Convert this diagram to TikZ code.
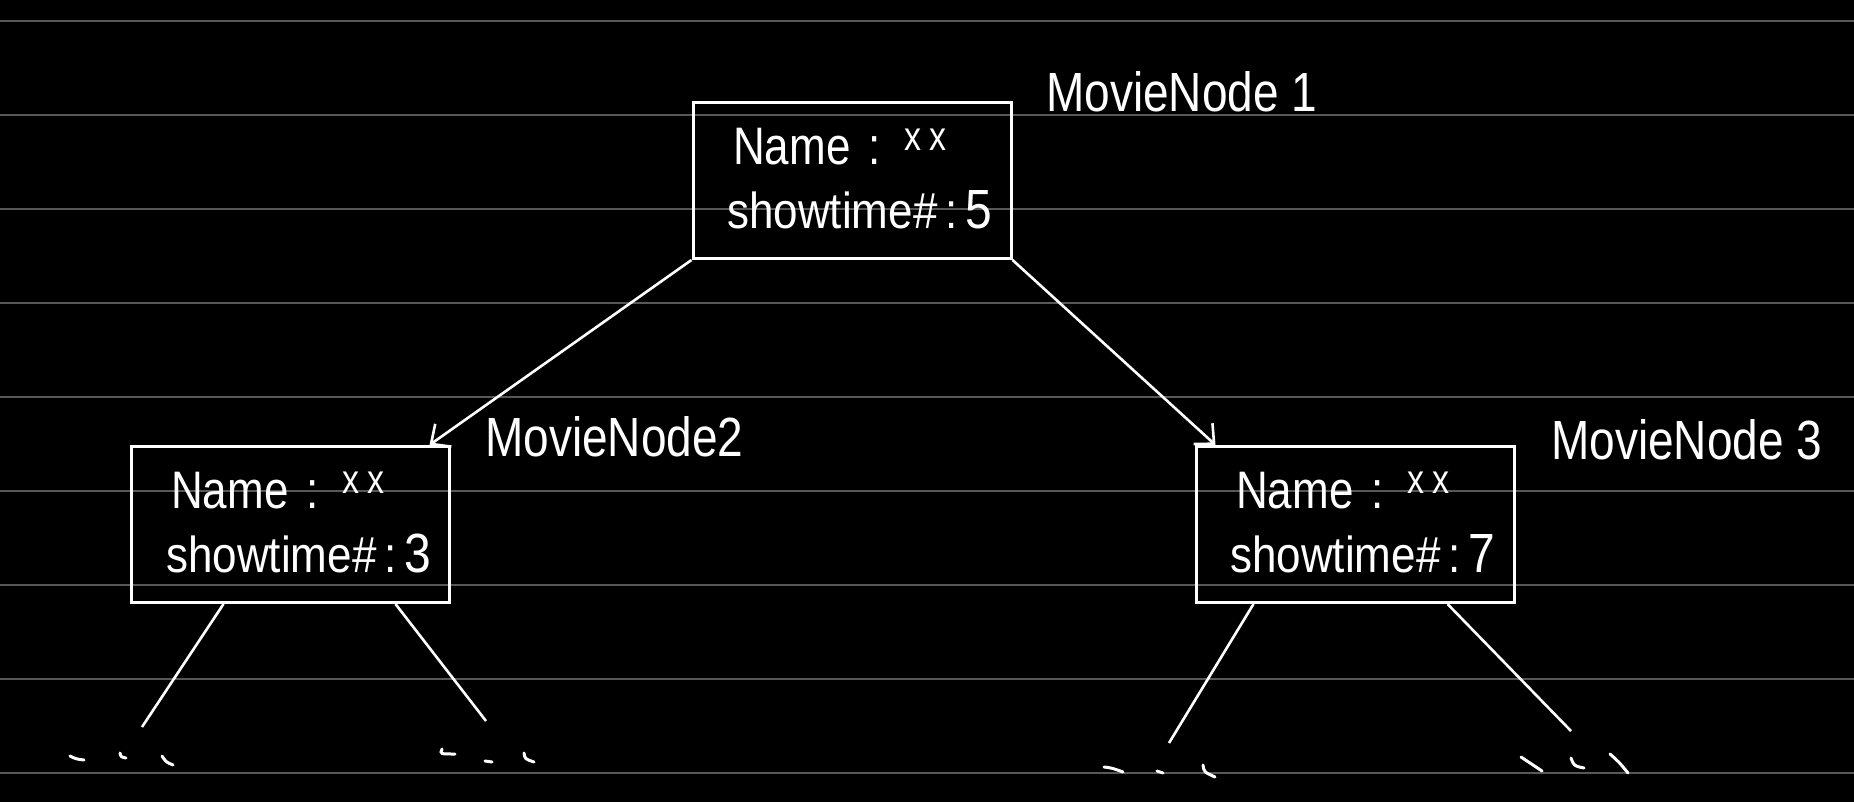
\documentclass[tikz,border=0pt]{standalone}
\usepackage{fontspec}
\setmainfont{Liberation Sans}
\usetikzlibrary{arrows.meta}
\definecolor{rule}{RGB}{88,88,88}
\tikzset{
  box/.style={draw=white, line width=3pt, minimum width=318pt, minimum height=156pt, inner sep=0pt},
  txt/.style={text=white, anchor=base west, inner sep=0pt, font=\fontsize{44}{48}\selectfont},
  lbl/.style={text=white, anchor=base west, inner sep=0pt, font=\fontsize{46}{50}\selectfont},
  link/.style={draw=white, line width=2.6pt},
  arr/.style={link, -{Straight Barb[length=15pt, width=28pt, line width=2.6pt]}},
  dotstroke/.style={draw=white, line width=3pt, line cap=round},
  ruleline/.style={draw=rule, line width=2pt}
}
\newcommand{\xxmark}{\hspace{18pt}:\hspace{24pt}{\fontsize{34}{34}\selectfont\raisebox{12pt}{x\hspace{8pt}x}}}
\newcommand{\showline}[1]{\scalebox{1}[1.15]{showtime\#\hspace{8pt}:\hspace{8pt}{\fontsize{48}{48}\selectfont #1}}}
\newcommand{\tall}[1]{\scalebox{1}[1.2]{#1}}
\begin{document}
\begin{tikzpicture}[x=1pt, y=-1pt]
\fill[black] (0,0) rectangle (1854,802);
\useasboundingbox (0,0) rectangle (1854,802);
\foreach \k in {0,...,8} {
  \draw[ruleline] (0,{20.7+94*\k}) -- (1854,{20.7+94*\k});
}
% boxes
\node[box] (top) at (852,180.5) {};
\node[box] (left) at (290,524.5) {};
\node[box] (right) at (1355,524.5) {};
% box texts
\node[txt] (topname) at (733,165) {\tall{Name\xxmark}};
\node[txt] (topshow) at (727,229) {\showline{5}};
\node[txt] (leftname) at (171,508) {\tall{Name\xxmark}};
\node[txt] (leftshow) at (166,572) {\showline{3}};
\node[txt] (rightname) at (1236,508) {\tall{Name\xxmark}};
\node[txt] (rightshow) at (1230,572) {\showline{7}};
% labels
\node[lbl] (lab1) at (1046,112) {\tall{MovieNode 1}};
\node[lbl] (lab2) at (485,456) {\tall{MovieNode2}};
\node[lbl] (lab3) at (1551,459) {\tall{MovieNode 3}};
% arrows
\draw[arr] (top.south west) -- ([xshift=-21pt]left.north east);
\draw[arr] (top.south east) -- ([xshift=21pt]right.north west);
% child lines
\coordinate (ll) at (142,727);
\coordinate (lr) at (486,721);
\coordinate (rl) at (1169,743);
\coordinate (rr) at (1571,731);
\draw[link] ([xshift=94pt]left.south west) -- (ll);
\draw[link] ([xshift=-55pt]left.south east) -- (lr);
\draw[link] ([xshift=59pt]right.south west) -- (rl);
\draw[link] ([xshift=-68pt]right.south east) -- (rr);
% ellipsis marks
\draw[dotstroke] (70,756) .. controls (76,759) .. (84,760);
\draw[dotstroke] (120,753) .. controls (121,757) .. (126,758);
\draw[dotstroke] (162,756) .. controls (166,762) .. (173,765);
\draw[dotstroke] (442,749) .. controls (440,754) .. (455,754);
\draw[dotstroke] (485,761) -- (492,762);
\draw[dotstroke] (524,753) .. controls (525,759) .. (534,762);
\draw[dotstroke] (1104,767) .. controls (1112,768) .. (1123,772);
\draw[dotstroke] (1157,771) -- (1163,773);
\draw[dotstroke] (1203,765) .. controls (1204,772) .. (1215,777);
\draw[dotstroke] (1521,757) .. controls (1530,763) .. (1542,771);
\draw[dotstroke] (1571,758) .. controls (1574,766) .. (1584,768);
\draw[dotstroke] (1610,754) .. controls (1619,762) .. (1628,773);
\end{tikzpicture}
\end{document}
